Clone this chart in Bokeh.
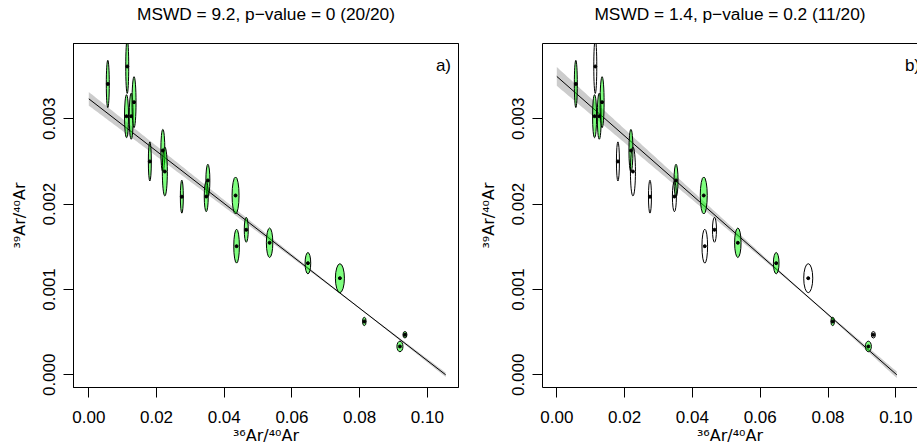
import numpy as np
from bokeh.plotting import figure
from bokeh.layouts import row
from bokeh.models import (Range1d, FixedTicker, NumeralTickFormatter, Label,
                          LinearAxis, ColumnDataSource)
from bokeh.embed import file_html
from bokeh.resources import INLINE

# ---- data: 36Ar/40Ar (x), 39Ar/40Ar (y), error-ellipse half axes ----
X = [0.00561, 0.01135, 0.01114, 0.01253, 0.01336, 0.01803, 0.02187, 0.02246,
     0.02748, 0.03517, 0.03469, 0.04335, 0.04365, 0.04651, 0.05340, 0.06472,
     0.07417, 0.08138, 0.09190, 0.09338]
Y = [0.003408, 0.003613, 0.003030, 0.003030, 0.003194, 0.002500, 0.002628,
     0.002382, 0.002087, 0.002277, 0.002089, 0.002101, 0.001507, 0.001699,
     0.001547, 0.001308, 0.001132, 0.000625, 0.000332, 0.000469]
EX = [0.00044, 0.00044, 0.00059, 0.00059, 0.00059, 0.00044, 0.00059, 0.00074,
      0.00044, 0.00059, 0.00059, 0.00103, 0.00083, 0.00059, 0.00095, 0.00083,
      0.00133, 0.00053, 0.00089, 0.00059]
EY = [0.000278, 0.000316, 0.000252, 0.000270, 0.000299, 0.000229, 0.000248,
      0.000287, 0.000193, 0.000190, 0.000178, 0.000217, 0.000199, 0.000146,
      0.000173, 0.000125, 0.000170, 0.000049, 0.000062, 0.000038]
# aliquots retained in panel b)
KEPT_B = [1, 0, 1, 1, 1, 0, 1, 0, 0, 1, 0, 1, 0, 0, 1, 1, 0, 1, 1, 0]

TITLES = ["MSWD = 9.2, p\u2212value = 0 (20/20)",
          "MSWD = 1.4, p\u2212value = 0.2 (11/20)"]
TAGS = ["a)", "b)"]
# isochron fits: intercept, slope, s.e. intercept, s.e. slope, correlation
FIT_INT = [0.003234, 0.003496]
FIT_SLOPE = [-0.03068, -0.03486]
FIT_SE_INT = [0.00008, 0.00011]
FIT_SE_SLOPE = [0.000995, 0.00146]
FIT_RHO = [-0.995, -0.9955]

X_TICKS = [0.00, 0.02, 0.04, 0.06, 0.08, 0.10]
Y_TICKS = [0.000, 0.001, 0.002, 0.003]
X_LABEL = "\u00b3\u2076Ar/\u2074\u2070Ar"
Y_LABEL = "\u00b3\u2079Ar/\u2074\u2070Ar"

FONT = "Liberation Sans"
LABEL_FONT = "DejaVu Sans"
FS = "17px"
Y_RANGE = (-0.000149, 0.003882)
# x ranges (visible frame); panel b is cut off at the right of the picture
X_RANGES = [(-0.00452, 0.1092), (-0.00422, 0.1064)]
X_FULL_END = [0.1092, 0.10935]

GREEN = "#00FF00"


def make_panel(k, width, left_border, right_border):
    p = figure(width=width, height=448, output_backend="svg",
               toolbar_location=None,
               x_range=Range1d(*X_RANGES[k]), y_range=Range1d(*Y_RANGE),
               min_border_left=left_border, min_border_right=right_border,
               min_border_top=43, min_border_bottom=61,
               background_fill_color="white", border_fill_color="white")
    p.xgrid.visible = False
    p.ygrid.visible = False

    for ax, ticks, fmt in ((p.xaxis[0], X_TICKS, "0.00"),
                           (p.yaxis[0], Y_TICKS, "0.000")):
        ax.ticker = FixedTicker(ticks=ticks)
        ax.formatter = NumeralTickFormatter(format=fmt)
        ax.major_tick_out = 10
        ax.major_tick_in = 0
        ax.minor_tick_line_color = None
        ax.major_tick_line_color = "black"
        ax.axis_line_color = "black"
        ax.major_label_text_font = FONT
        ax.major_label_text_font_size = FS
        ax.major_label_text_color = "black"
        ax.axis_label_text_font = LABEL_FONT
        ax.axis_label_text_font_size = "16px"
        ax.axis_label_text_font_style = "normal"
        ax.axis_label_text_color = "black"
    p.xaxis.axis_label = X_LABEL
    p.yaxis.axis_label = Y_LABEL
    p.xaxis.major_label_standoff = 13
    p.xaxis.axis_label_standoff = 0
    p.yaxis.major_label_orientation = "vertical"
    p.yaxis.major_label_standoff = 8
    p.yaxis.axis_label_standoff = 12

    # top edge of the box, carrying the panel title
    top = LinearAxis(ticker=FixedTicker(ticks=[]),
                     major_label_text_font_size="0px",
                     major_label_standoff=0, major_tick_out=0,
                     major_tick_in=0, axis_line_color="black",
                     major_tick_line_color=None,
                     minor_tick_line_color=None,
                     axis_label=TITLES[k], axis_label_standoff=20,
                     axis_label_text_font=FONT,
                     axis_label_text_font_size="17.3px",
                     axis_label_text_font_style="normal",
                     axis_label_text_color="black")
    p.add_layout(top, "above")
    if k == 0:
        p.outline_line_color = "black"
        p.outline_line_width = 1
    else:
        p.outline_line_color = None

    # isochron line and its confidence band
    a, b = FIT_INT[k], FIT_SLOPE[k]
    sa, sb, r = FIT_SE_INT[k], FIT_SE_SLOPE[k], FIT_RHO[k]
    x_int = -a / b
    xs = np.linspace(0.0, x_int, 200)
    yc = a + b * xs
    w = np.sqrt(sa ** 2 + 2 * xs * r * sa * sb + (xs * sb) ** 2)
    p.varea(x=xs, y1=yc - w, y2=yc + w, fill_color="#CCCCCC")
    p.line(x=[0.0, x_int], y=[a, a + b * x_int], line_color="black",
           line_width=1)

    x = np.array(X)
    y = np.array(Y)
    ex = np.array(EX)
    ey = np.array(EY)
    kept = np.ones(len(X), bool) if k == 0 else np.array(KEPT_B, bool)
    src_in = ColumnDataSource(dict(x=x[kept], y=y[kept], w=2 * ex[kept],
                                   h=2 * ey[kept]))
    src_out = ColumnDataSource(dict(x=x[~kept], y=y[~kept], w=2 * ex[~kept],
                                    h=2 * ey[~kept]))
    p.ellipse(x="x", y="y", width="w", height="h", source=src_in,
              fill_color=GREEN, fill_alpha=0.5, line_color="black",
              line_width=1)
    p.ellipse(x="x", y="y", width="w", height="h", source=src_out,
              fill_color=None, line_color="black", line_width=1)
    p.scatter(x=X, y=Y, size=3, color="black")

    p.add_layout(Label(x=X_FULL_END[k], y=Y_RANGE[1], x_offset=-7.5,
                       y_offset=-22, text=TAGS[k], text_align="right",
                       text_baseline="middle", text_font=FONT,
                       text_font_size=FS, text_color="black"))
    return p


p1 = make_panel(0, 459, 73, 1)
p2 = make_panel(1, 458, 83, 0)
layout = row(p1, p2)

open("out.html", "w").write(file_html(layout, INLINE))
